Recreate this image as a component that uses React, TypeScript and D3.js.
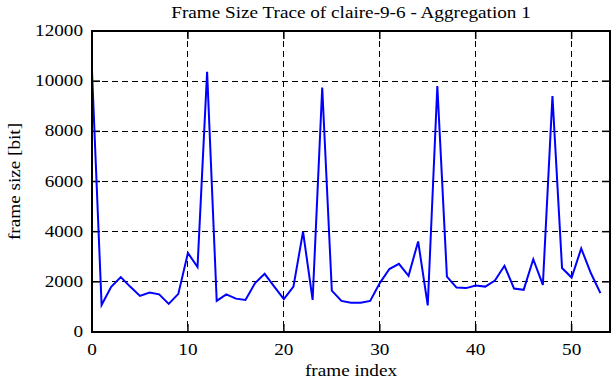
import React, { useEffect, useRef } from "react";
import * as d3 from "d3";

const frameSizes = [
  10400, 1080, 1800, 2190, 1800, 1440, 1570, 1500, 1120, 1520, 3150, 2590,
  10370, 1240, 1500, 1330, 1280, 1950, 2320, 1810, 1310, 1810, 4000, 1280,
  9750, 1650, 1240, 1170, 1170, 1240, 1950, 2510, 2720, 2240, 3610, 1060,
  9810, 2210, 1770, 1750, 1850, 1810, 2050, 2640, 1730, 1680, 2900, 1880,
  9410, 2550, 2170, 3330, 2350, 1550,
];
const xTicks = [0, 10, 20, 30, 40, 50];
const yTicks = [0, 2000, 4000, 6000, 8000, 10000, 12000];

const title = "Frame Size Trace of claire-9-6 - Aggregation 1";
const xLabel = "frame index";
const yLabel = "frame size [bit]";

export default function App() {
  const ref = useRef<SVGSVGElement>(null);

  useEffect(() => {
    const svg = d3.select(ref.current);
    svg.selectAll("*").remove();

    const left = 92,
      right = 610,
      top = 31,
      bottom = 332;
    const font = "'Liberation Serif', 'Times New Roman', serif";
    const stretch = 1.2;

    const x = d3.scaleLinear().domain([0, 54]).range([left, right]);
    const y = d3.scaleLinear().domain([0, 12000]).range([bottom, top]);

    const label = (
      px: number,
      py: number,
      txt: string,
      anchor: string,
      size = 16,
      rotate = 0
    ) =>
      svg
        .append("text")
        .attr(
          "transform",
          `translate(${px},${py}) rotate(${rotate}) scale(${stretch},1)`
        )
        .attr("text-anchor", anchor)
        .attr("font-family", font)
        .attr("font-size", size)
        .attr("fill", "#000")
        .text(txt);

    // grid
    const grid = svg.append("g").attr("stroke", "#000").attr("stroke-width", 1)
      .attr("stroke-dasharray", "6,4").attr("shape-rendering", "crispEdges");
    xTicks.filter((t) => t > 0).forEach((t) => {
      grid.append("line").attr("x1", x(t)).attr("x2", x(t)).attr("y1", top).attr("y2", bottom);
    });
    yTicks.filter((t) => t > 0 && t < 12000).forEach((t) => {
      grid.append("line").attr("x1", left).attr("x2", right).attr("y1", y(t)).attr("y2", y(t));
    });

    // ticks (inside, both sides)
    const ticks = svg.append("g").attr("stroke", "#000").attr("stroke-width", 1.5);
    xTicks.forEach((t) => {
      ticks.append("line").attr("x1", x(t)).attr("x2", x(t)).attr("y1", bottom).attr("y2", bottom - 8);
      ticks.append("line").attr("x1", x(t)).attr("x2", x(t)).attr("y1", top).attr("y2", top + 8);
    });
    yTicks.forEach((t) => {
      ticks.append("line").attr("x1", left).attr("x2", left + 8).attr("y1", y(t)).attr("y2", y(t));
      ticks.append("line").attr("x1", right).attr("x2", right - 8).attr("y1", y(t)).attr("y2", y(t));
    });

    // data line
    const line = d3
      .line<number>()
      .x((d, i) => x(i))
      .y((d) => y(d));
    svg
      .append("path")
      .datum(frameSizes)
      .attr("d", line)
      .attr("fill", "none")
      .attr("stroke", "#0000ff")
      .attr("stroke-width", 2);

    // frame
    svg
      .append("rect")
      .attr("x", left)
      .attr("y", top)
      .attr("width", right - left)
      .attr("height", bottom - top)
      .attr("fill", "none")
      .attr("stroke", "#000")
      .attr("stroke-width", 2);

    // tick labels
    yTicks.forEach((t) => label(left - 9, y(t) + 5, String(t), "end"));
    xTicks.forEach((t) => label(x(t), bottom + 23, String(t), "middle"));

    label((left + right) / 2, 18, title, "middle");
    label((left + right) / 2, 376, xLabel, "middle");
    label(20, (top + bottom) / 2, yLabel, "middle", 16, -90);
  }, []);

  return (
    <svg
      ref={ref}
      width={612}
      height={382}
      style={{ position: "absolute", left: 0, top: 0, background: "#fff" }}
    />
  );
}
